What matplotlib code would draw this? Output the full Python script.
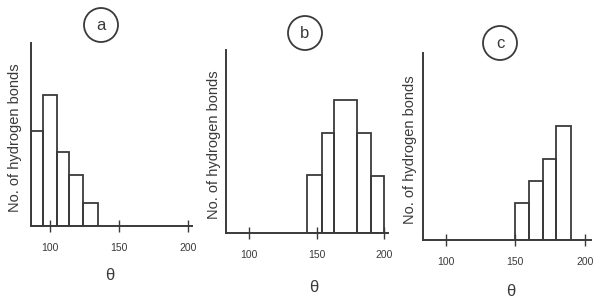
import numpy as np
import matplotlib.pyplot as plt
from matplotlib.patches import Ellipse

# bin edges (theta, degrees) and bar heights (arbitrary units)
edges_a = [86, 95, 105, 114, 124, 135]
heights_a = [19.0, 26.2, 14.8, 10.2, 4.6]

edges_b = [143, 154, 163, 180, 190, 200]
heights_b = [11.6, 20.0, 26.6, 20.0, 11.4]

edges_c = [150, 160, 170, 179, 190]
heights_c = [7.4, 11.8, 16.2, 22.8]

tick_vals = [100, 150, 200]
panel_labels = ['a', 'b', 'c']
ylabel = 'No. of hydrogen bonds'
xlabel = 'θ'

ink = '#3a3a3a'

# [left, bottom, width, height], xlim, ylim-top for each panel
layout = [
    ([0.052, 0.257, 0.272, 0.602], (86, 203), 36.6),
    ([0.381, 0.234, 0.274, 0.602], (83, 203), 36.6),
    ([0.714, 0.211, 0.282, 0.615], (84, 204), 37.4),
]
circle_pos = [(101, 25), (305, 33), (500, 43)]
xlabel_pos = [(110, 276), (314, 287), (511, 292)]
ylabel_x = [15, 214, 410]

W, H = 593, 304
fig = plt.figure(figsize=(W / 100, H / 100), dpi=100)
plt.rcParams['font.family'] = ['Liberation Sans', 'DejaVu Sans']

data = [(edges_a, heights_a), (edges_b, heights_b), (edges_c, heights_c)]

for i, ((edges, heights), (rect, xlim, ytop)) in enumerate(zip(data, layout)):
    ax = fig.add_axes(rect)
    edges = np.array(edges)
    ax.bar(edges[:-1], heights, width=np.diff(edges), align='edge',
           fill=False, edgecolor=ink, linewidth=1.3)
    ax.set_xlim(*xlim)
    ax.set_ylim(0, ytop)
    for s in ['top', 'right']:
        ax.spines[s].set_visible(False)
    for s in ['left', 'bottom']:
        ax.spines[s].set_color(ink)
        ax.spines[s].set_linewidth(1.4)
    ax.set_yticks([])
    ax.set_xticks(tick_vals)
    ax.tick_params(axis='x', direction='inout', length=8, width=1, colors=ink,
                   labelsize=7.5, pad=8)
    ax.patch.set_alpha(0)

    # y label placed in pixel coordinates
    b = rect[1]
    hgt = rect[3]
    fig.text(ylabel_x[i] / W, b + hgt * 0.48, ylabel, rotation=90,
             ha='center', va='center', fontsize=10.5, color=ink)

    cx, cy = circle_pos[i]
    fig.add_artist(Ellipse((cx / W, 1 - cy / H), 34 / W, 34 / H,
                           transform=fig.transFigure, fill=False,
                           edgecolor=ink, linewidth=1.3))
    fig.text(cx / W, 1 - cy / H, panel_labels[i], ha='center', va='center',
             fontsize=12, color=ink)

    lx, ly = xlabel_pos[i]
    fig.text(lx / W, 1 - ly / H, xlabel, ha='center', va='center',
             fontsize=12, color=ink)

fig.savefig('out.png', dpi=100)
